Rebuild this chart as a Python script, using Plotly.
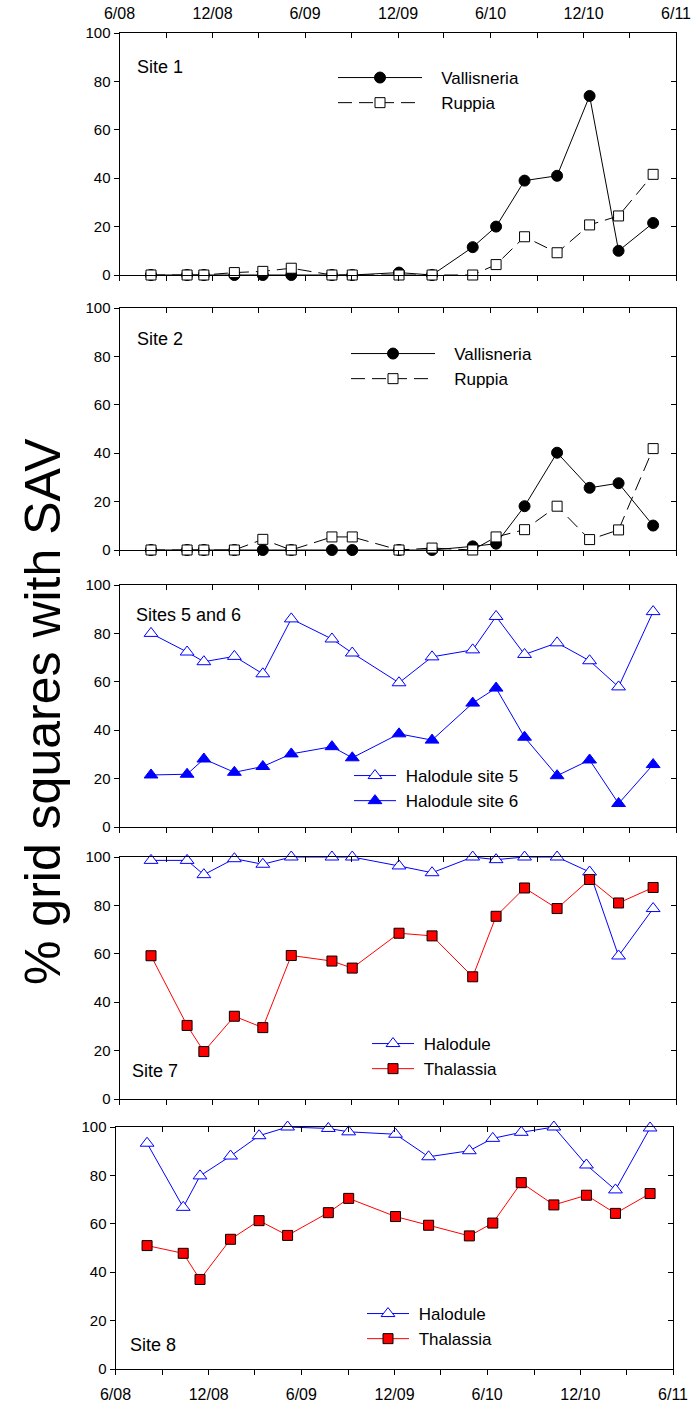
import pandas as pd
import plotly.graph_objects as go

# ---- sampling dates shared by all sites ----
SAMPLE_DATES = [
    "2008-08-02", "2008-10-12", "2008-11-14", "2009-01-13", "2009-03-10",
    "2009-05-05", "2009-07-24", "2009-09-02", "2009-12-03", "2010-02-06",
    "2010-04-27", "2010-06-12", "2010-08-07", "2010-10-10", "2010-12-13",
    "2011-02-08", "2011-04-17",
]

# ---- % grid squares with SAV, per site and species ----
site1_vallisneria = [0, 0, 0, 0, 0, 0, 0, 0, 1, 0, 11.5, 20, 39, 41, 74, 10, 21.5]
site1_ruppia = [0, 0, 0, 1, 1.5, 2.8, 0, 0, 0, 0, 0, 4.3, 15.8, 9.2, 20.7, 24.4, 41.6]

site2_vallisneria = [0, 0, 0, 0, 0, 0, 0, 0, 0, 0, 1.5, 2.6, 18.1, 40.2, 25.7, 27.6, 10.1]
site2_ruppia = [0, 0, 0, 0, 4.4, 0, 5.4, 5.4, 0, 0.8, 0, 5.4, 8.4, 18.1, 4.3, 8.3, 41.9]

site5_halodule = [80, 72.3, 68.3, 70.5, 63.3, 86, 77.7, 71.9, 59.6, 70.3, 73.2, 87, 71.3, 76.1, 68.7, 57.9, 89]
site6_halodule = [21.5, 21.8, 28.1, 22.6, 25, 30.2, 33.2, 28.6, 38.5, 35.9, 51.2, 57.4, 37.1, 21.2, 27.7, 9.7, 25.8]

site7_halodule = [98.6, 98.6, 92.7, 99.3, 97, 100, 100, 100, 96.3, 93.5, 100, 98.9, 100, 100, 93.8, 59.1, 78.7]
site7_thalassia = [59.2, 30.4, 19.6, 34.2, 29.5, 59.3, 57, 54.1, 68.5, 67.4, 50.5, 75.5, 87.2, 78.7, 90.7, 81, 87.4]

site8_halodule = [93.3, 66.8, 79.8, 88, 96.4, 100, 99.4, 98, 97, 87.7, 90.2, 95.3, 97.8, 100, 84.3, 74, 99.6]
site8_thalassia = [51, 47.8, 37, 53.6, 61.3, 55.2, 64.6, 70.5, 63, 59.4, 55, 60.3, 77, 67.8, 71.8, 64.3, 72.5]

# ---- axis ticks ----
X_START, X_END = "2008-06-01", "2011-06-01"
TICK_LABELS = ["6/08", "12/08", "6/09", "12/09", "6/10", "12/10", "6/11"]
Y_RANGE = [0, 100]

PANEL_TITLES = ["Site 1", "Site 2", "Sites 5 and 6", "Site 7", "Site 8"]

MAJOR_TICKS = pd.date_range(X_START, X_END, freq="6MS")
MINOR_TICKS = [d for d in pd.date_range(X_START, X_END, freq="3MS") if d not in MAJOR_TICKS]

# ---- page geometry (pixels) ----
W, H = 693, 1410
FONT = "Liberation Sans, Arial, Helvetica, sans-serif"
PANEL_Y = [(33, 275), (308, 550), (585, 827), (857, 1099), (1127, 1369)]
PANEL_X = [(119.5, 676), (119.5, 676), (119.5, 676), (119.5, 676), (115.5, 673)]
TITLE_POS = [(135, 67), (135, 339), (134, 615), (130, 1071), (128, 1345)]
# legend: left edge, top edge, symbol width
LEGEND_POS = [(333, 60, 84), (346, 336, 84), (349, 758, 42), (367, 1026, 42), (362, 1296, 42)]
LEGEND_PAD = ["\u00a0\u00a0\u00a0", "\u00a0\u00a0\u00a0", "\u00a0", "\u00a0", "\u00a0"]


def fx(px):
    return px / W


def fy(py):
    return 1 - py / H


def ax_name(kind, n):
    return kind if n == 1 else f"{kind}{n}"


fig = go.Figure()

BLACK_LINE = dict(color="black", width=1)
BLUE = "#0000FF"
RED = "#FF0000"
RUPPIA_DASH = dict(color="black", width=1, dash="14px,7px")

FILLED_CIRCLE = dict(symbol="circle", size=11, color="black", line=dict(color="black", width=1))
OPEN_SQUARE = dict(symbol="square", size=10, color="white", line=dict(color="black", width=1))
OPEN_TRIANGLE = dict(symbol="triangle-up", size=12, color="white", line=dict(color=BLUE, width=1))
FILLED_TRIANGLE = dict(symbol="triangle-up", size=12, color=BLUE, line=dict(color=BLUE, width=1))
RED_SQUARE = dict(symbol="square", size=10, color=RED, line=dict(color="black", width=1))

series = [
    # (panel, name, values, line, marker)
    (0, "Vallisneria", site1_vallisneria, BLACK_LINE, FILLED_CIRCLE),
    (0, "Ruppia", site1_ruppia, RUPPIA_DASH, OPEN_SQUARE),
    (1, "Vallisneria", site2_vallisneria, BLACK_LINE, FILLED_CIRCLE),
    (1, "Ruppia", site2_ruppia, RUPPIA_DASH, OPEN_SQUARE),
    (2, "Halodule site 5", site5_halodule, dict(color=BLUE, width=1), OPEN_TRIANGLE),
    (2, "Halodule site 6", site6_halodule, dict(color=BLUE, width=1), FILLED_TRIANGLE),
    (3, "Halodule", site7_halodule, dict(color=BLUE, width=1), OPEN_TRIANGLE),
    (3, "Thalassia", site7_thalassia, dict(color=RED, width=1), RED_SQUARE),
    (4, "Halodule", site8_halodule, dict(color=BLUE, width=1), OPEN_TRIANGLE),
    (4, "Thalassia", site8_thalassia, dict(color=RED, width=1), RED_SQUARE),
]

for panel, name, values, line, marker in series:
    n = panel + 1
    fig.add_trace(go.Scatter(
        x=SAMPLE_DATES, y=values, name=LEGEND_PAD[panel] + name, mode="lines+markers",
        line=line, marker=marker, cliponaxis=False,
        xaxis=ax_name("x", n), yaxis=ax_name("y", n),
        legend=ax_name("legend", n),
    ))

layout = dict(
    width=W, height=H, margin=dict(l=0, r=0, t=0, b=0, autoexpand=False),
    paper_bgcolor="white", plot_bgcolor="white",
    font=dict(family=FONT, color="black"),
    showlegend=True,
)

annotations = []
for k in range(5):
    n, m = k + 1, k + 6
    top, bot = PANEL_Y[k]
    left, right = PANEL_X[k]
    common_x = dict(
        type="date", range=[X_START, X_END], domain=[fx(left), fx(right)],
        automargin=False, ticklabeloverflow="allow",
        showgrid=False, zeroline=False, showline=True, linecolor="black", linewidth=1,
        tickmode="array", tickvals=list(MAJOR_TICKS), ticktext=TICK_LABELS,
        ticklen=5, tickwidth=1, tickcolor="black",
        tickfont=dict(size=16, family=FONT, color="black"),
    )
    layout["xaxis" + ("" if n == 1 else str(n))] = dict(
        common_x, anchor=ax_name("y", n), ticks="outside", side="bottom",
        showticklabels=(k == 4), ticklabelstandoff=6,
        minor=dict(tickmode="array", tickvals=MINOR_TICKS, ticks="outside",
                   ticklen=5, tickwidth=1, tickcolor="black"),
    )
    layout[f"xaxis{m}"] = dict(
        common_x, anchor=f"y{m}", overlaying=ax_name("x", n), side="top",
        ticks="inside", showticklabels=(k == 0), ticklabelstandoff=7,
        minor=dict(tickmode="array", tickvals=MINOR_TICKS, ticks="inside",
                   ticklen=5, tickwidth=1, tickcolor="black"),
    )
    common_y = dict(
        range=Y_RANGE, domain=[fy(bot), fy(top)], automargin=False,
        tickmode="linear", tick0=0, dtick=20,
        showgrid=False, zeroline=False, showline=True, linecolor="black", linewidth=1,
        ticklen=5, tickwidth=1, tickcolor="black",
        tickfont=dict(size=15, family=FONT, color="black"),
    )
    layout["yaxis" + ("" if n == 1 else str(n))] = dict(
        common_y, anchor=ax_name("x", n), side="left", ticks="outside",
    )
    layout[f"yaxis{m}"] = dict(
        common_y, anchor=f"x{m}", overlaying=ax_name("y", n), side="right",
        ticks="inside", showticklabels=False,
    )

    lx, ly, iw = LEGEND_POS[k]
    layout["legend" + ("" if n == 1 else str(n))] = dict(
        x=fx(lx), y=fy(ly), xanchor="left", yanchor="top",
        bgcolor="rgba(0,0,0,0)", borderwidth=0,
        font=dict(size=17, family=FONT, color="black"),
        itemwidth=iw, tracegroupgap=0, traceorder="normal",
    )

    tx, ty = TITLE_POS[k]
    annotations.append(dict(
        text=PANEL_TITLES[k], xref="paper", yref="paper", x=fx(tx), y=fy(ty),
        xanchor="left", yanchor="middle", showarrow=False,
        font=dict(size=18, family=FONT, color="black"),
    ))

# empty traces so the top/right frame axes get drawn
for k in range(5):
    m = k + 6
    fig.add_trace(go.Scatter(x=[None], y=[None], xaxis=f"x{m}", yaxis=f"y{m}",
                             showlegend=False, hoverinfo="skip"))

annotations.append(dict(
    text="% grid squares with SAV", xref="paper", yref="paper",
    x=fx(43), y=fy(712), xanchor="center", yanchor="middle", textangle=-90,
    showarrow=False, font=dict(size=50, family=FONT, color="black"),
))

layout["annotations"] = annotations
fig.update_layout(layout)
fig.write_html("out.html")
